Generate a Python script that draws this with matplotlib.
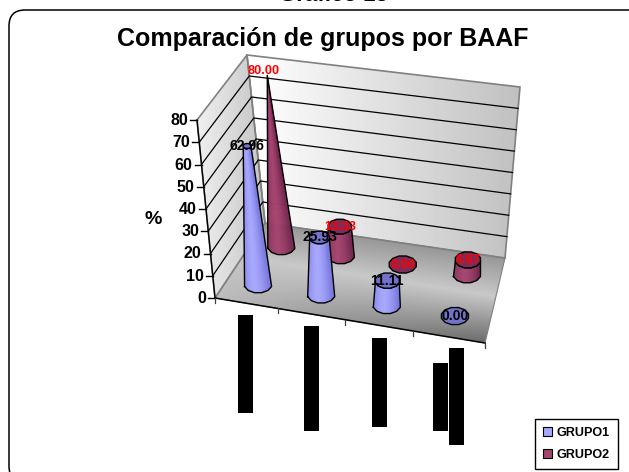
import numpy as np
import matplotlib
matplotlib.use("Agg")
import matplotlib.pyplot as plt
from matplotlib.patches import FancyBboxPatch, Polygon, Patch, Rectangle

plt.rcParams['font.family'] = ['Liberation Sans', 'DejaVu Sans']

# data
series_names = ['GRUPO1', 'GRUPO2']
grupo1 = [62.96, 25.93, 11.11, 0.00]
grupo2 = [80.00, 13.33, 0.00, 6.67]
y_ticks = [0, 10, 20, 30, 40, 50, 60, 70, 80]
Y_MAX = 80.0

# box corners on the page: front-left, front-right, back-right, back-left
FL, FR, BR, BL = map(np.array, [(215., 298.), (485., 343.), (505., 258.), (265., 223.)])
# what a full-height column adds at each of those corners
H_FL, H_FR, H_BR, H_BL = map(np.array, [(-18., -178.), (18., -178.), (15., -171.), (-18., -168.)])
U_EDGES = [0, .233, .481, .733, 1]   # category edges, the box has some perspective
DEPTHS = [.25, .75]                  # depth of each series row

BLUE = ('#7a7ae2', '#a8a8ff', '#7272c8')   # edge, centre, top face
RED = ('#74264f', '#a5446f', '#7c2c56')


def floor_xy(u, v):
    return (1-v)*(FL + (FR-FL)*u) + v*(BL + (BR-BL)*u)


def proj(u, v, val):
    h = (1-v)*(H_FL + (H_FR-H_FL)*u) + v*(H_BL + (H_BR-H_BL)*u)
    return floor_xy(u, v) + h*val/Y_MAX


def gradient(ax, poly, gray, z):
    # gray is a function of the pixel grid, clipped to the polygon
    xx, yy = np.meshgrid(np.arange(629)+.5, np.arange(472)+.5)
    im = ax.imshow(gray(xx, yy), cmap='gray', vmin=0, vmax=255, extent=(0, 629, 472, 0),
                   aspect='auto', zorder=z, interpolation='bilinear')
    im.set_clip_path(Polygon(poly, transform=ax.transData))


def left_shade(xx, yy):
    return np.clip(240 - (xx-197)/68*45, 170, 245)


def back_shade(xx, yy):
    return np.clip(255 - (xx-250)/265*62, 190, 255)


def floor_shade(xx, yy):
    y_back = BL[1] + (xx-BL[0])*(BR[1]-BL[1])/(BR[0]-BL[0])
    y_front = FL[1] + (xx-FL[0])*(FR[1]-FL[1])/(FR[0]-FL[0])
    t = np.clip((yy-y_back)/(y_front-y_back), 0, 1)
    xf = np.clip((xx-215)/270, 0, 1)
    return 200 - np.where(t < .45, (.45-t)*110, (t-.45)*(20+150*xf))


# 12 sided section, x from -1 to 1, front half used for the column sides
ang = np.radians(15 + 30*np.arange(12))
sec_x = np.cos(ang)/np.cos(np.radians(15))
sec_y = np.sin(ang)/np.cos(np.radians(15))
order = np.argsort(sec_x[sec_y > 0])
front_x = sec_x[sec_y > 0][order]
front_y = sec_y[sec_y > 0][order]


def cone(ax, u, v, val, colors, z):
    rx, ry = 13.5, 8.5
    base = floor_xy(u, v)
    top = proj(u, v, val)
    k = (1 - val/Y_MAX)**.8
    s = np.linspace(-1, 1, 41)
    f = np.interp(s, front_x, front_y)
    edge, centre, top_col = [np.array(matplotlib.colors.to_rgb(c)) for c in colors]
    bx, by = base[0] + rx*s, base[1] + ry*f
    tx, ty = top[0] + rx*k*s, top[1] + ry*k*f
    if val > 0:
        for i in range(len(s)-1):
            w = min(1, abs((s[i]+s[i+1])/2 + .2)/1.05)**1.6
            col = centre*(1-w) + edge*w
            ax.fill([bx[i], bx[i+1], tx[i+1], tx[i]], [by[i], by[i+1], ty[i+1], ty[i]],
                    color=col, lw=.3, zorder=z)
        ax.plot(list(bx) + list(tx[::-1]) + [bx[0]], list(by) + list(ty[::-1]) + [by[0]],
                color='black', lw=1, zorder=z+.1, solid_joinstyle='round')
    if k > 0:
        ax.fill(top[0] + rx*k*sec_x, top[1] + ry*k*sec_y, facecolor=top_col,
                edgecolor='black', lw=1, zorder=z+.2)


fig = plt.figure(figsize=(6.29, 4.72), dpi=100)
ax = fig.add_axes([0, 0, 1, 1])

# outer chart frame runs off the right and bottom of the page
ax.add_patch(FancyBboxPatch((9, 10), 640, 472, boxstyle='round,pad=0,rounding_size=16',
                            fc='white', ec='black', lw=1.1, zorder=1))
ax.text(333, 1, 'Gráfico 13', ha='center', va='baseline', fontsize=16, fontweight='bold', zorder=2)
ax.text(323, 39, 'Comparación de grupos por BAAF', ha='center', va='center',
        fontsize=18, fontweight='bold', zorder=2)

# walls and floor
left_wall = [FL, FL+H_FL, BL+H_BL, BL]
back_wall = [BL, BL+H_BL, BR+H_BR, BR]
floor = [FL, FR, BR, BL]
gradient(ax, left_wall, left_shade, 3)
gradient(ax, back_wall, back_shade, 3)
gradient(ax, floor, floor_shade, 3)
for poly in (left_wall, back_wall):
    ax.add_patch(Polygon(poly, closed=True, fill=False, ec='#808080', lw=1.2, zorder=4))
ax.add_patch(Polygon(floor, closed=True, fill=False, ec='#808080', lw=.8, zorder=4))

# gridlines and value axis
for t in y_ticks[1:-1]:
    a, b, c = proj(0, 0, t), proj(0, 1, t), proj(1, 1, t)
    ax.plot([a[0], b[0], c[0]], [a[1], b[1], c[1]], color='black', lw=.9, zorder=5)
a0, a1 = proj(0, 0, 0), proj(0, 0, Y_MAX)
ax.plot([a0[0], a1[0]], [a0[1], a1[1]], color='black', lw=1, zorder=5)
for t in y_ticks:
    p = proj(0, 0, t)
    ax.plot([p[0]-7, p[0]], [p[1], p[1]], color='black', lw=1, zorder=5)
    ax.text(p[0]-9, p[1]+.5, str(t), ha='right', va='center', fontsize=11.5, fontweight='bold', zorder=6)
ax.text(153, 219, '%', ha='center', va='center', fontsize=14, fontweight='bold', zorder=6)

# category axis along the front edge
ax.plot([FL[0], FR[0]], [FL[1], FR[1]], color='black', lw=1.1, zorder=5)
for u in U_EDGES:
    p = floor_xy(u, 0)
    ax.plot([p[0], p[0]], [p[1], p[1]+5], color='#404040', lw=.9, zorder=5)

# columns, back row first
centers = [(U_EDGES[i]+U_EDGES[i+1])/2 for i in range(len(U_EDGES)-1)]
rows = [(grupo2, DEPTHS[1], RED, 7, 'red', 9.2), (grupo1, DEPTHS[0], BLUE, 9, 'black', 10)]
for vals, v, colors, z, tcol, fs in rows:
    for u, val in zip(centers, vals):
        cone(ax, u, v, val, colors, z)
for vals, v, colors, z, tcol, fs in rows:
    for u, val in zip(centers, vals):
        p = proj(u, v, val)
        off = -4 if val == Y_MAX else 0
        ax.text(p[0]+off, p[1]+off, f'{val:.2f}', ha='center', va='center', color=tcol,
                fontsize=fs, fontweight='bold', zorder=12)

# black bars over the category labels
bars = [(238, 315, 15, 98), (304, 326, 15, 105), (372, 338, 15, 89), (433, 363, 15, 68), (449, 348, 15, 97)]
for x, y, w, h in bars:
    ax.add_patch(Rectangle((x, y), w, h, fc='black', ec='none', zorder=6))

handles = [Patch(fc=BLUE[1], ec='black', lw=.8), Patch(fc=RED[1], ec='black', lw=.8)]
ax.legend(handles, series_names, loc='lower right', bbox_to_anchor=(617.5, 468.5),
          bbox_transform=ax.transData, prop={'size': 9.1, 'weight': 'bold'}, fancybox=False,
          framealpha=1, edgecolor='black', handlelength=.7, handleheight=.7, handletextpad=.4,
          labelspacing=.8, borderpad=.6, borderaxespad=0)

ax.set_xlim(0, 629)
ax.set_ylim(472, 0)
ax.axis('off')
fig.savefig('out.png', dpi=100)
